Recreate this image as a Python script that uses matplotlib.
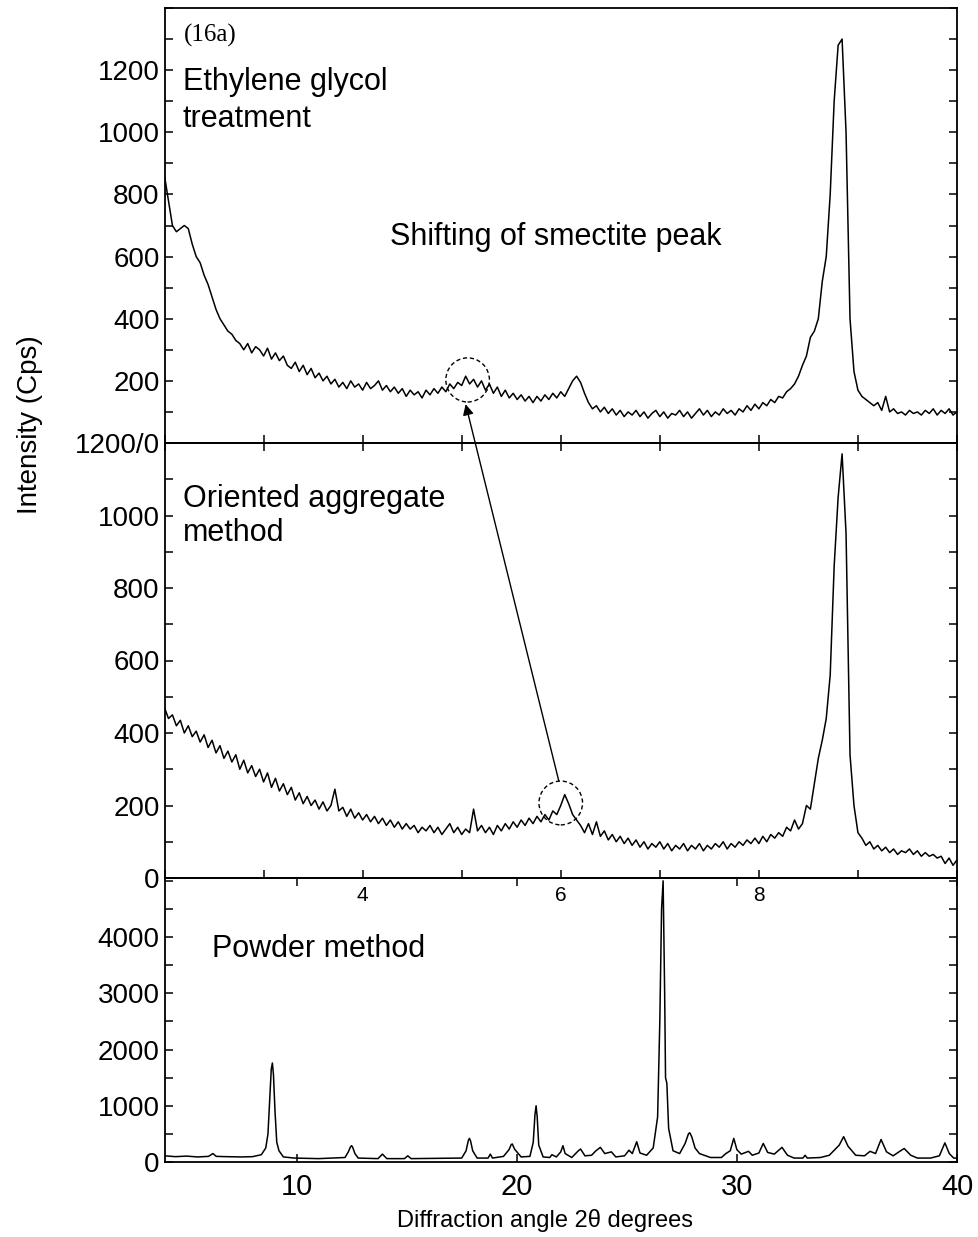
import numpy as np
import matplotlib
matplotlib.use("Agg")
import matplotlib.pyplot as plt
from matplotlib.patches import Ellipse
from matplotlib.ticker import MultipleLocator

plt.rcParams['font.family'] = ['Liberation Sans', 'DejaVu Sans']

# scan angles of the two clay-fraction runs (2-10 deg, 0.04 deg step)
theta_clay = np.linspace(2.0, 10.0, 201)

# ethylene glycol treatment (Cps)
glycol = [
    860, 780, 700, 680, 690, 700, 690, 640, 600, 580,
    540, 510, 470, 430, 400, 380, 360, 350, 330, 320,
    300, 320, 290, 310, 300, 280, 305, 270, 290, 265,
    280, 250, 240, 260, 230, 250, 220, 240, 210, 225,
    200, 215, 190, 205, 180, 195, 175, 200, 180, 190,
    170, 195, 175, 185, 200, 170, 185, 165, 180, 160,
    175, 150, 170, 155, 165, 145, 170, 155, 175, 160,
    180, 165, 190, 175, 195, 185, 215, 190, 205, 180,
    200, 170, 190, 160, 180, 150, 170, 145, 160, 140,
    155, 135, 150, 130, 150, 135, 155, 140, 160, 145,
    165, 150, 175, 200, 215, 195, 160, 130, 110, 120,
    100, 115, 95, 110, 90, 105, 85, 100, 90, 105,
    85, 100, 80, 95, 105, 85, 100, 80, 95, 90,
    105, 85, 100, 80, 95, 110, 90, 105, 85, 100,
    90, 110, 95, 105, 90, 110, 100, 120, 105, 125,
    110, 130, 120, 140, 130, 150, 145, 165, 175, 190,
    215, 250, 280, 340, 360, 400, 520, 600, 800, 1100,
    1280, 1300, 1000, 400, 230, 170, 150, 140, 130, 120,
    130, 105, 150, 100, 110, 95, 100, 90, 105, 95,
    100, 90, 105, 95, 110, 90, 105, 95, 110, 90,
    100,
]

# oriented aggregate method (Cps)
oriented = [
    470, 440, 450, 420, 435, 400, 420, 390, 405, 375,
    395, 360, 380, 345, 365, 330, 350, 320, 340, 300,
    325, 290, 310, 280, 300, 265, 290, 250, 275, 240,
    260, 230, 250, 215, 235, 205, 225, 200, 215, 190,
    210, 185, 200, 245, 185, 195, 170, 190, 165, 180,
    160, 175, 155, 170, 150, 165, 145, 160, 140, 155,
    135, 150, 135, 145, 125, 140, 130, 145, 125, 140,
    120, 135, 150, 125, 140, 120, 135, 125, 190, 130,
    145, 125, 140, 120, 145, 130, 150, 135, 155, 140,
    160, 145, 165, 150, 170, 155, 175, 160, 185, 175,
    200, 230, 205, 175, 160, 145, 125, 150, 120, 155,
    115, 130, 105, 120, 100, 115, 95, 110, 90, 105,
    85, 100, 80, 95, 85, 100, 80, 95, 75, 90,
    80, 95, 75, 90, 80, 95, 75, 90, 80, 95,
    85, 100, 80, 95, 85, 100, 90, 105, 95, 110,
    95, 115, 100, 120, 110, 125, 115, 140, 130, 160,
    135, 150, 200, 190, 260, 330, 380, 440, 560, 860,
    1050, 1170, 950, 340, 200, 125, 110, 90, 100, 80,
    90, 75, 85, 70, 80, 65, 75, 70, 80, 65,
    75, 60, 70, 60, 65, 55, 60, 40, 55, 35,
    50,
]

# powder method, 4-40 deg
theta_powder = [
    4.0, 4.5, 5.0, 5.5, 6.0, 6.2, 6.35, 6.8, 7.5, 8.0,
    8.4, 8.6, 8.7, 8.78, 8.85, 8.9, 8.95, 9.02, 9.1, 9.2, 9.4, 9.9,
    11.0, 12.2, 12.35, 12.45, 12.5, 12.55, 12.65, 12.8, 13.7, 13.9, 14.1, 14.9,
    15.05, 15.2, 17.5, 17.7, 17.8, 17.85, 17.9, 18.0, 18.2, 18.7, 18.8, 18.9,
    19.4, 19.65, 19.75, 19.8, 19.9, 20.2, 20.6, 20.75, 20.83, 20.88, 20.93, 21.0, 21.2,
    21.5, 21.6, 21.8, 22.0, 22.1, 22.2, 22.5, 22.8, 22.9, 23.1,
    23.4, 23.6, 23.8, 24.0, 24.3, 24.5, 24.9, 25.1, 25.25, 25.45,
    25.6, 25.9, 26.2, 26.4, 26.5, 26.58, 26.65, 26.72, 26.76, 26.82, 26.9,
    27.1, 27.4, 27.65, 27.8, 27.86, 27.95, 28.1, 28.3, 28.8, 29.3, 29.5, 29.7,
    29.86, 30.0, 30.2, 30.53, 30.7, 31.0, 31.2, 31.4, 31.7, 32.05,
    32.3, 32.6, 33.0, 33.1, 33.2, 33.8, 34.2, 34.45, 34.65, 34.85,
    35.05, 35.4, 35.8, 36.05, 36.3, 36.55, 36.8, 37.1, 37.4, 37.6,
    37.9, 38.2, 38.8, 39.2, 39.45, 39.65, 39.85, 40.0,
]
powder = [
    110, 95, 105, 90, 100, 150, 100, 95, 90, 95,
    130, 250, 500, 1100, 1650, 1760, 1550, 900, 350, 200, 90, 70,
    60, 80, 180, 270, 290, 260, 150, 70, 60, 140, 60, 60,
    110, 60, 70, 200, 380, 420, 380, 200, 70, 70, 140, 70,
    100, 220, 310, 320, 230, 90, 100, 350, 850, 1000, 800, 300, 90,
    80, 130, 90, 180, 290, 150, 80, 200, 230, 110,
    120, 200, 260, 150, 180, 90, 110, 210, 150, 360,
    160, 120, 250, 800, 2500, 4500, 5000, 3000, 1500, 1400, 600,
    200, 150, 330, 500, 520, 450, 250, 150, 80, 80, 150, 200,
    420, 220, 140, 190, 120, 160, 330, 170, 140, 260,
    120, 70, 70, 120, 70, 80, 120, 220, 300, 450,
    280, 120, 110, 190, 150, 400, 180, 110, 190, 240,
    120, 70, 70, 110, 340, 150, 70, 70,
]

W, H = 979, 1237
fig = plt.figure(figsize=(W / 100, H / 100), dpi=100)


def px_axes(x0, y0, x1, y1):
    # axes from pixel box (top-left origin)
    return fig.add_axes([x0 / W, 1 - y1 / H, (x1 - x0) / W, (y1 - y0) / H])


def fig_text(x, y, s, **kw):
    fig.text(x / W, 1 - y / H, s, **kw)


ax_top = px_axes(164.5, 8, 957, 443)
ax_mid = px_axes(164.5, 443, 957, 878)
ax_pow = px_axes(164.5, 878, 957, 1162)

for ax in (ax_top, ax_mid, ax_pow):
    ax.set_facecolor('none')  # so labels of the panel above stay visible
    for s in ax.spines.values():
        s.set_linewidth(1.3)
    ax.tick_params(which='both', direction='in', width=1.1, length=6,
                   labelsize=20, right=True, top=True)

lw = 1.1
ax_top.plot(theta_clay, glycol, color='k', lw=lw)
ax_mid.plot(theta_clay, oriented, color='k', lw=lw)
ax_pow.plot(theta_powder, powder, color='k', lw=lw)

# top panel
ax_top.set_xlim(2, 10)
ax_top.set_ylim(0, 1400)
ax_top.xaxis.set_major_locator(MultipleLocator(2))
ax_top.xaxis.set_minor_locator(MultipleLocator(1))
ax_top.set_yticks(range(0, 1401, 200))
ax_top.set_yticklabels(['', '200', '400', '600', '800', '1000', '1200', ''])
ax_top.yaxis.set_minor_locator(MultipleLocator(100))
ax_top.tick_params(which='both', top=False, labelbottom=False)

# middle panel
ax_mid.set_xlim(2, 10)
ax_mid.set_ylim(0, 1200)
ax_mid.set_xticks([4, 6, 8])
ax_mid.xaxis.set_minor_locator(MultipleLocator(1))
ax_mid.set_yticks(range(0, 1201, 200))
ax_mid.set_yticklabels(['0', '200', '400', '600', '800', '1000', '1200/0'])
ax_mid.yaxis.set_minor_locator(MultipleLocator(100))
ax_mid.tick_params(axis='x', labelsize=15, pad=6)

# powder panel
ax_pow.set_xlim(4, 40)
ax_pow.set_ylim(0, 5050)
ax_pow.set_xticks([10, 20, 30, 40])
ax_pow.set_yticks(range(0, 4001, 1000))
ax_pow.yaxis.set_minor_locator(MultipleLocator(500))
ax_pow.tick_params(axis='x', labelsize=21, pad=8)

# dashed circles and the arrow showing the peak shift
ax_top.add_patch(Ellipse((5.06, 203), 0.44, 142, fill=False, ls=(0, (3, 2)), lw=1))
ax_mid.add_patch(Ellipse((6.0, 207), 0.44, 121, fill=False, ls=(0, (3, 2)), lw=1))
ax_mid.annotate('', xy=(5.04, 125), xycoords=ax_top.transData,
                xytext=(5.98, 268), textcoords='data',
                arrowprops=dict(arrowstyle='-|>', color='k', lw=1,
                                shrinkA=0, shrinkB=0, mutation_scale=16))

fig_text(184, 42, '(16a)', fontsize=18, family=['Liberation Serif', 'DejaVu Serif'])
fig_text(183, 90, 'Ethylene glycol', fontsize=22)
fig_text(183, 127, 'treatment', fontsize=22)
fig_text(390, 245, 'Shifting of smectite peak', fontsize=22)
fig_text(183, 507, 'Oriented aggregate', fontsize=22)
fig_text(183, 541, 'method', fontsize=22)
fig_text(212, 957, 'Powder method', fontsize=22)

fig_text(30, 425, 'Intensity (Cps)', fontsize=20, rotation=90, ha='center', va='center')
fig_text(545, 1221, 'Diffraction angle 2θ degrees', fontsize=17, ha='center', va='center')

fig.savefig('out.png', dpi=100)
